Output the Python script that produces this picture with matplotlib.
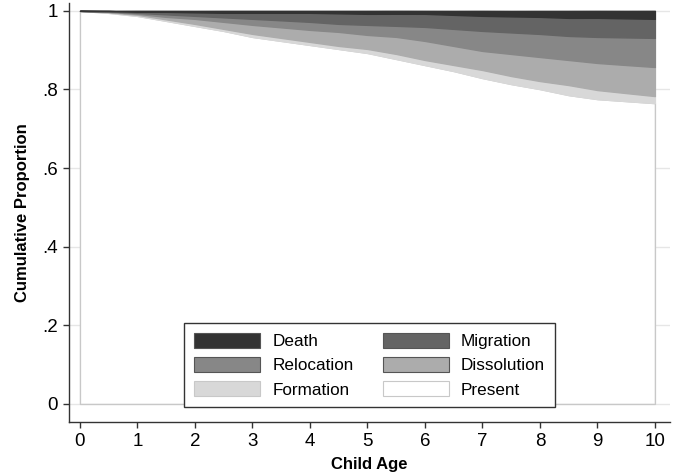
import matplotlib
matplotlib.use("Agg")
import matplotlib.pyplot as plt

plt.rcParams["font.family"] = ["Liberation Sans", "DejaVu Sans"]

# child age (years)
age = [0, 0.5, 1, 1.5, 2, 2.5, 3, 3.5, 4, 4.5, 5,
       5.5, 6, 6.5, 7, 7.5, 8, 8.5, 9, 9.5, 10]

# share of children in each state, bottom to top
present = [1.0, 0.9949, 0.9872, 0.9745, 0.9617, 0.9490, 0.9337, 0.9235, 0.9133, 0.9031, 0.8929,
           0.8776, 0.8622, 0.8469, 0.8291, 0.8138, 0.8010, 0.7857, 0.7755, 0.7704, 0.7653]
formation = [0, 0.0013, 0.0026, 0.0038, 0.0051, 0.0051, 0.0077, 0.0077, 0.0077, 0.0077, 0.0102,
             0.0128, 0.0128, 0.0153, 0.0204, 0.0204, 0.0204, 0.0255, 0.0230, 0.0204, 0.0179]
dissolution = [0, 0.0013, 0.0026, 0.0064, 0.0128, 0.0179, 0.0230, 0.0268, 0.0306, 0.0357, 0.0357,
               0.0434, 0.0485, 0.0485, 0.0485, 0.0561, 0.0612, 0.0638, 0.0689, 0.0714, 0.0740]
relocation = [0, 0.0013, 0.0026, 0.0064, 0.0077, 0.0115, 0.0153, 0.0179, 0.0204, 0.0204, 0.0255,
              0.0281, 0.0357, 0.0434, 0.0510, 0.0548, 0.0587, 0.0612, 0.0663, 0.0702, 0.0740]
migration = [0, 0.0008, 0.0026, 0.0064, 0.0089, 0.0115, 0.0153, 0.0191, 0.0230, 0.0268, 0.0281,
             0.0306, 0.0332, 0.0357, 0.0383, 0.0408, 0.0434, 0.0459, 0.0485, 0.0485, 0.0485]
death = [0, 0.0005, 0.0026, 0.0026, 0.0038, 0.0051, 0.0051, 0.0051, 0.0051, 0.0064, 0.0077,
         0.0077, 0.0077, 0.0102, 0.0128, 0.0140, 0.0153, 0.0179, 0.0179, 0.0191, 0.0204]

labels = ["Present", "Formation", "Dissolution", "Relocation", "Migration", "Death"]
colors = ["#ffffff", "#d8d8d8", "#acacac", "#878787", "#646464", "#333333"]
edges = ["#c8c8c8", "#d8d8d8", "#acacac", "#878787", "#646464", "#333333"]

fig = plt.figure(figsize=(6.78, 4.75), dpi=100)
ax = fig.add_axes([0.1018, 0.1116, 0.8862, 0.8821])

yt = [0, 0.2, 0.4, 0.6, 0.8, 1]
for y in yt:
    ax.axhline(y, color="#e6e6e6", lw=1, zorder=0)

polys = ax.stackplot(age, present, formation, dissolution, relocation, migration, death,
                     colors=colors, labels=labels, zorder=2)
for p, e in zip(polys, edges):
    p.set_edgecolor(e)
    p.set_linewidth(1)

ax.set_xlim(-0.19, 10.26)
ax.set_ylim(-0.046, 1.02)
ax.set_xticks(range(0, 11))
ax.set_yticks(yt)
ax.set_yticklabels(["0", ".2", ".4", ".6", ".8", "1"])
ax.tick_params(labelsize=13.5, length=4, width=1, color="#333333", pad=4)

for s in ["top", "right"]:
    ax.spines[s].set_visible(False)
for s in ["left", "bottom"]:
    ax.spines[s].set_color("#333333")
    ax.spines[s].set_linewidth(1)

ax.set_xlabel("Child Age", fontsize=12, fontweight="bold", labelpad=5)
ax.set_ylabel("Cumulative Proportion", fontsize=12, fontweight="bold", labelpad=9)

# legend order: Death, Migration / Relocation, Dissolution / Formation, Present
h, l = ax.get_legend_handles_labels()
order = [5, 3, 1, 4, 2, 0]
leg = ax.legend([h[i] for i in order], [l[i] for i in order], ncol=2,
                loc="lower center", bbox_to_anchor=(0.5, 0.036), borderaxespad=0,
                fontsize=12.3, handlelength=3.9, handleheight=1.0,
                handletextpad=0.7, columnspacing=1.7, labelspacing=0.45,
                borderpad=0.55, fancybox=False, framealpha=1, edgecolor="#333333")
leg.get_frame().set_linewidth(1)
for hd, i in zip(leg.legend_handles, order):
    hd.set_edgecolor("#c8c8c8" if i < 2 else "#555555")
    hd.set_linewidth(0.8)

fig.savefig("out.png", dpi=100)
